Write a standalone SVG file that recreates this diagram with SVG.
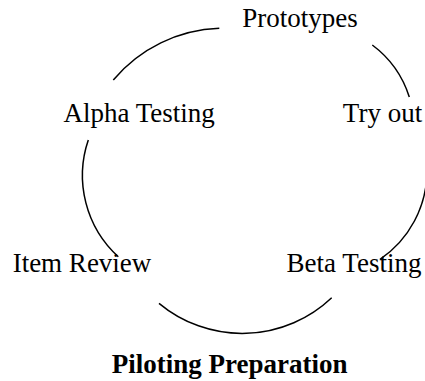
<svg xmlns="http://www.w3.org/2000/svg" width="425" height="381" viewBox="0 0 425 381">
<style>
.lbl{font-family:"Liberation Serif","Times New Roman",serif;font-size:27px;fill:#000;text-anchor:middle}
.title{font-weight:bold}
.arc{fill:none;stroke:#000;stroke-width:1.5}
</style>
<rect width="425" height="381" fill="#fff"/>
<g id="connectors">
<path class="arc" d="M113.3,80 A145,145 0 0 1 219.3,28.3"/>
<path class="arc" d="M372.3,45 A104,104 0 0 1 409.3,97"/>
<path class="arc" d="M427,171 A107,107 0 0 1 380,259.3"/>
<path class="arc" d="M331.7,297.7 A130,130 0 0 1 159,303.3"/>
<path class="arc" d="M118.3,256.7 A110,110 0 0 1 88.3,140"/>
</g>
<g id="prototypes"><text class="lbl" x="300" y="27">Prototypes</text></g>
<g id="try-out"><text class="lbl" x="382.5" y="121.5">Try out</text></g>
<g id="beta-testing"><text class="lbl" x="354" y="271.7">Beta Testing</text></g>
<g id="item-review"><text class="lbl" x="82" y="271.7">Item Review</text></g>
<g id="alpha-testing"><text class="lbl" x="139.2" y="121.5">Alpha Testing</text></g>
<g id="title"><text class="lbl title" x="229.7" y="373.3">Piloting Preparation</text></g>
</svg>
